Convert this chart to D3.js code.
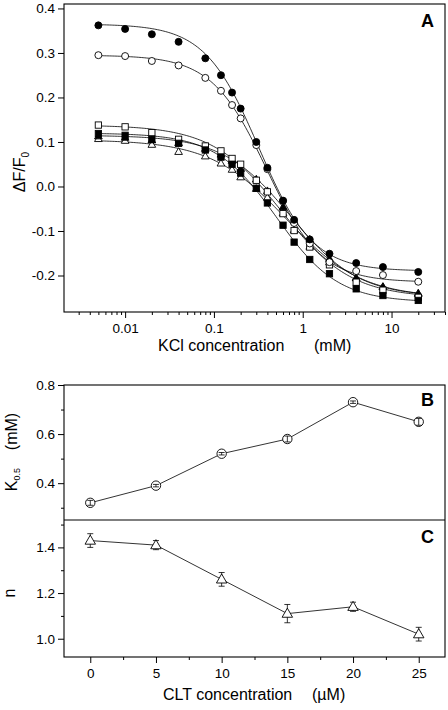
<!DOCTYPE html>
<html><head><meta charset="utf-8">
<script src="https://cdn.jsdelivr.net/npm/d3@7"></script>
<style>
body{margin:0;background:#fff}
svg{display:block}
text{font-family:"Liberation Sans",Arial,Helvetica,sans-serif;fill:#000}
</style>
</head><body>
<svg id="chart" width="448" height="710"></svg>
<script>
// ---------- Panel A data ----------
const kclConc = [0.005,0.01,0.02,0.04,0.08,0.12,0.16,0.2,0.3,0.4,0.6,0.8,1.2,2,4,8,20];
const cltLabels = ["0","5","10","15","20","25"];
const seriesSymbol = ["circle","circle","square","square","triangle","triangle"];
const seriesFilled = [true,false,true,false,true,false];
const dF0  = [0.362,0.354,0.342,0.325,0.288,0.250,0.211,0.175,0.100,0.042,-0.032,-0.075,-0.119,-0.151,-0.172,-0.181,-0.192];
const dF5  = [0.295,0.293,0.282,0.272,0.244,0.215,0.183,0.153,0.093,0.039,-0.032,-0.082,-0.128,-0.170,-0.190,-0.199,-0.214];
const dF10 = [0.119,0.115,0.106,0.097,0.082,0.066,0.050,0.030,-0.004,-0.037,-0.087,-0.125,-0.164,-0.196,-0.230,-0.245,-0.256];
const dF15 = [0.138,0.134,0.121,0.106,0.091,0.080,0.063,0.050,0.014,-0.012,-0.061,-0.099,-0.136,-0.176,-0.215,-0.233,-0.249];
const dF20 = [0.113,0.110,0.104,0.098,0.085,0.072,0.058,0.040,0.016,-0.010,-0.046,-0.078,-0.119,-0.162,-0.206,-0.226,-0.241];
const dF25 = [0.107,0.103,0.094,0.078,0.068,0.052,0.038,0.021,-0.005,-0.025,-0.060,-0.098,-0.135,-0.170,-0.205,-0.225,-0.240];
const dFSeries = [dF0,dF5,dF10,dF15,dF20,dF25];
// Hill fit parameters (curves in panel A)
const fitTop    = [0.365,0.295,0.120,0.138,0.115,0.105];
const fitBottom = [-0.190,-0.215,-0.260,-0.250,-0.248,-0.250];
const fitK      = [0.32,0.39,0.51,0.58,0.73,0.65];
const fitN      = [1.43,1.41,1.26,1.11,1.14,1.02];

const kclTicks = [0.01,0.1,1,10];
const kclTickLabels = ["0.01","0.1","1","10"];
const dfTicks = [-0.2,-0.1,0.0,0.1,0.2,0.3,0.4];

// ---------- Panels B and C data ----------
const cltConc = [0,5,10,15,20,25];
const k05     = [0.32,0.39,0.52,0.58,0.73,0.65];
const k05Err  = [0.010,0.005,0.005,0.012,0.005,0.014];
const hillN    = [1.43,1.41,1.26,1.11,1.14,1.02];
const hillNErr = [0.03,0.02,0.03,0.04,0.02,0.03];
const kTicks = [0.4,0.6,0.8];
const kMinor = [0.3,0.5,0.7];
const nTicks = [1.0,1.2,1.4];
const nMinor = [1.1,1.3,1.5];
const cltTicks = [0,5,10,15,20,25];
const cltMinor = [2.5,7.5,12.5,17.5,22.5];

// ---------- layout ----------
const svg = d3.select("#chart");
const L = 64, R = 445;
const aTop = 4, aBot = 312;
const bTop = 385, bBot = 520, cBot = 657;

const xA = d3.scaleLog().domain([0.00205,40]).range([L,R]);
const yA = d3.scaleLinear().domain([-0.282,0.41]).range([aBot,aTop]);
const xBC = d3.scaleLinear().domain([-2,27]).range([L,R]);
const yB = d3.scaleLinear().domain([0.25,0.8]).range([bBot,bTop]);
const yC = d3.scaleLinear().domain([0.92,1.52]).range([cBot,bBot]);

const fmt1 = d => d.toFixed(1);
const TF = "13.5px";
const LF = "16px";

function styleAxis(g){
  g.select(".domain").remove();
  g.selectAll(".tick line").attr("stroke","#000").attr("stroke-width",1);
  g.selectAll(".tick text").style("font-size",TF).attr("fill","#000");
}

// ===== Panel A =====
const aMinor = [];
[0.001,0.01,0.1,1,10].forEach(dec => { for (let m=2;m<=9;m++){ const v=m*dec; if(v>=0.00205 && v<=40) aMinor.push(v);} });

svg.append("g").attr("transform",`translate(0,${aBot})`)
  .call(d3.axisBottom(xA).tickValues(aMinor).tickSize(3).tickFormat(""))
  .call(styleAxis);
svg.append("g").attr("transform",`translate(0,${aBot})`)
  .call(d3.axisBottom(xA).tickValues(kclTicks).tickSize(6).tickPadding(5)
        .tickFormat((d,i)=>kclTickLabels[i]))
  .call(styleAxis);
svg.append("g").attr("transform",`translate(${L},0)`)
  .call(d3.axisLeft(yA).tickValues(dfTicks).tickSize(6).tickPadding(3).tickFormat(fmt1))
  .call(styleAxis);

svg.append("rect").attr("x",L).attr("y",aTop).attr("width",R-L).attr("height",aBot-aTop)
  .attr("fill","none").attr("stroke","#000").attr("stroke-width",1.1);

// fitted curves
const curveX = d3.range(0,201).map(i => Math.pow(10, Math.log10(0.005) + i*(Math.log10(20)-Math.log10(0.005))/200));
const lineA = d3.line().x(d=>xA(d[0])).y(d=>yA(d[1]));
const drawOrder = [5,4,3,2,1,0];
drawOrder.forEach(s => {
  const pts = curveX.map(x => [x, fitBottom[s] + (fitTop[s]-fitBottom[s])/(1+Math.pow(x/fitK[s],fitN[s]))]);
  svg.append("path").attr("d",lineA(pts)).attr("fill","none").attr("stroke","#000").attr("stroke-width",0.8);
});

function marker(g, type, cx, cy, size, filled){
  const fill = filled ? "#000" : "#fff";
  if (type==="circle"){
    g.append("circle").attr("cx",cx).attr("cy",cy).attr("r",size/2)
      .attr("fill",fill).attr("stroke","#000").attr("stroke-width",0.9);
  } else if (type==="square"){
    const s=size*0.9;
    g.append("rect").attr("x",cx-s/2).attr("y",cy-s/2).attr("width",s).attr("height",s)
      .attr("fill",fill).attr("stroke","#000").attr("stroke-width",0.9);
  } else {
    const s=size*1.1, h=s*0.87;
    g.append("path").attr("d",`M${cx},${cy-h*0.6}L${cx+s/2},${cy+h*0.4}L${cx-s/2},${cy+h*0.4}Z`)
      .attr("fill",fill).attr("stroke","#000").attr("stroke-width",0.9);
  }
}

const gPts = svg.append("g");
drawOrder.forEach(s => {
  dFSeries[s].forEach((v,i) => marker(gPts, seriesSymbol[s], xA(kclConc[i]), yA(v), 7, seriesFilled[s]));
});

svg.append("text").attr("x",434).attr("y",27).attr("text-anchor","end")
  .style("font-size","18px").style("font-weight","bold").text("A");

svg.append("text").attr("x",158).attr("y",351).style("font-size",LF).text("KCl concentration");
svg.append("text").attr("x",314).attr("y",351).style("font-size",LF).text("(mM)");
const yt = svg.append("text").attr("transform","translate(25,172) rotate(-90)")
  .attr("text-anchor","middle").style("font-size",LF);
yt.append("tspan").text("\u0394F/F");
yt.append("tspan").attr("dy",4).style("font-size","10px").text("0");

// ===== Panels B & C =====
svg.append("g").attr("transform",`translate(0,${cBot})`)
  .call(d3.axisBottom(xBC).tickValues(cltMinor).tickSize(3).tickFormat(""))
  .call(styleAxis);
svg.append("g").attr("transform",`translate(0,${cBot})`)
  .call(d3.axisBottom(xBC).tickValues(cltTicks).tickSize(6).tickPadding(5).tickFormat(d=>String(d)))
  .call(styleAxis);
svg.append("g").attr("transform",`translate(${L},0)`)
  .call(d3.axisLeft(yB).tickValues(kMinor).tickSize(3).tickFormat(""))
  .call(styleAxis);
svg.append("g").attr("transform",`translate(${L},0)`)
  .call(d3.axisLeft(yB).tickValues(kTicks).tickSize(6).tickPadding(3).tickFormat(fmt1))
  .call(styleAxis);
svg.append("g").attr("transform",`translate(${L},0)`)
  .call(d3.axisLeft(yC).tickValues(nMinor).tickSize(3).tickFormat(""))
  .call(styleAxis);
svg.append("g").attr("transform",`translate(${L},0)`)
  .call(d3.axisLeft(yC).tickValues(nTicks).tickSize(6).tickPadding(3).tickFormat(fmt1))
  .call(styleAxis);

svg.append("rect").attr("x",L).attr("y",bTop).attr("width",R-L).attr("height",cBot-bTop)
  .attr("fill","none").attr("stroke","#000").attr("stroke-width",1.1);
svg.append("line").attr("x1",L).attr("x2",R).attr("y1",bBot).attr("y2",bBot)
  .attr("stroke","#000").attr("stroke-width",1.1);

const lineB = d3.line().x((d,i)=>xBC(cltConc[i])).y(d=>yB(d));
svg.append("path").attr("d",lineB(k05)).attr("fill","none").attr("stroke","#000").attr("stroke-width",0.8);
const gB = svg.append("g");
k05.forEach((v,i) => {
  const cx = xBC(cltConc[i]);
  marker(gB,"circle",cx,yB(v),9.4,false);
  const y1=yB(v-k05Err[i]), y2=yB(v+k05Err[i]);
  gB.append("line").attr("x1",cx).attr("x2",cx).attr("y1",y1).attr("y2",y2).attr("stroke","#000").attr("stroke-width",0.8);
  [y1,y2].forEach(y=>gB.append("line").attr("x1",cx-3).attr("x2",cx+3).attr("y1",y).attr("y2",y).attr("stroke","#000").attr("stroke-width",0.8));
});

const lineC = d3.line().x((d,i)=>xBC(cltConc[i])).y(d=>yC(d));
svg.append("path").attr("d",lineC(hillN)).attr("fill","none").attr("stroke","#000").attr("stroke-width",0.8);
const gC = svg.append("g");
hillN.forEach((v,i) => {
  const cx = xBC(cltConc[i]);
  const y1=yC(v-hillNErr[i]), y2=yC(v+hillNErr[i]);
  gC.append("line").attr("x1",cx).attr("x2",cx).attr("y1",y1).attr("y2",y2).attr("stroke","#000").attr("stroke-width",0.8);
  [y1,y2].forEach(y=>gC.append("line").attr("x1",cx-3).attr("x2",cx+3).attr("y1",y).attr("y2",y).attr("stroke","#000").attr("stroke-width",0.8));
  marker(gC,"triangle",cx,yC(v),9.5,false);
});

svg.append("text").attr("x",434).attr("y",406).attr("text-anchor","end")
  .style("font-size","18px").style("font-weight","bold").text("B");
svg.append("text").attr("x",434).attr("y",543).attr("text-anchor","end")
  .style("font-size","18px").style("font-weight","bold").text("C");

const kt = svg.append("text").attr("transform","translate(17,452) rotate(-90)")
  .attr("text-anchor","middle").style("font-size",LF);
kt.append("tspan").text("K");
kt.append("tspan").attr("dy",3).style("font-size","9px").text("0.5");
kt.append("tspan").attr("dy",-3).text("\u00a0\u00a0\u00a0\u00a0(mM)");

svg.append("text").attr("transform","translate(15,593) rotate(-90)")
  .attr("text-anchor","middle").style("font-size",LF).text("n");

svg.append("text").attr("x",163).attr("y",700).style("font-size",LF).text("CLT concentration");
svg.append("text").attr("x",312).attr("y",700).style("font-size",LF).text("(\u00b5M)");
</script>
</body></html>
